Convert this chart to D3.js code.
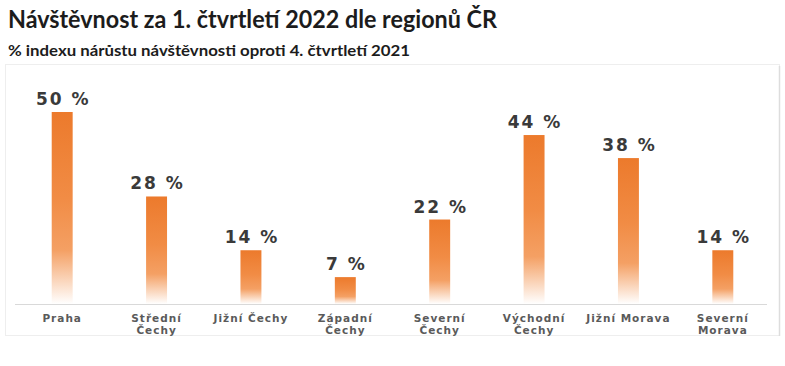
<!DOCTYPE html>
<html>
<head>
<meta charset="utf-8">
<script src="https://cdn.jsdelivr.net/npm/d3@7"></script>
<style>
  html, body { margin: 0; padding: 0; background: #ffffff; }
  svg { display: block; }
</style>
</head>
<body>
<svg id="chart" width="785" height="366"></svg>
<script>
const titleText = "Návštěvnost za 1. čtvrtletí 2022 dle regionů ČR";
const subtitleText = "% indexu nárůstu návštěvnosti oproti 4. čtvrtletí 2021";
const categories = [
  ["Praha"],
  ["Střední", "Čechy"],
  ["Jižní Čechy"],
  ["Západní", "Čechy"],
  ["Severní", "Čechy"],
  ["Východní", "Čechy"],
  ["Jižní Morava"],
  ["Severní", "Morava"]
];
const values = [50, 28, 14, 7, 22, 44, 38, 14];
const valueLabels = ["50 %", "28 %", "14 %", "7 %", "22 %", "44 %", "38 %", "14 %"];

const svg = d3.select("#chart");

// gradient for bars
const defs = svg.append("defs");
const grad = defs.append("linearGradient")
  .attr("id", "barGrad").attr("x1", 0).attr("y1", 0).attr("x2", 0).attr("y2", 1);
grad.append("stop").attr("offset", "0%").attr("stop-color", "#EC7A2C");
grad.append("stop").attr("offset", "45%").attr("stop-color", "#F18C45");
grad.append("stop").attr("offset", "72%").attr("stop-color", "#F4A064");
grad.append("stop").attr("offset", "100%").attr("stop-color", "#FFFFFF");

// chart frame
svg.append("rect")
  .attr("x", 5.5).attr("y", 64.5).attr("width", 774).attr("height", 271)
  .attr("fill", "#ffffff").attr("stroke", "#eeeeee").attr("stroke-width", 1);
svg.append("line")
  .attr("x1", 779.5).attr("x2", 779.5).attr("y1", 66).attr("y2", 336)
  .attr("stroke", "#dddddd").attr("stroke-width", 1.5);

// titles
svg.append("text")
  .attr("x", 8).attr("y", 28)
  .attr("font-family", "Lato, 'Open Sans', sans-serif")
  .attr("font-weight", 700).attr("font-size", 24)
  .attr("fill", "#1c1c1c")
  .attr("textLength", 489).attr("lengthAdjust", "spacingAndGlyphs")
  .text(titleText);
svg.append("text")
  .attr("x", 8).attr("y", 56)
  .attr("font-family", "Lato, 'Open Sans', sans-serif")
  .attr("font-weight", 700).attr("font-size", 15.5)
  .attr("fill", "#1c1c1c")
  .attr("textLength", 402).attr("lengthAdjust", "spacingAndGlyphs")
  .text(subtitleText);

const x = d3.scaleBand()
  .domain(d3.range(categories.length))
  .range([15, 770])
  .paddingInner(0.778)
  .paddingOuter(0.389);

const y = d3.scaleLinear().domain([0, 50]).range([304, 112]);

// bars
svg.append("g").selectAll("rect")
  .data(values)
  .join("rect")
  .attr("x", (d, i) => x(i))
  .attr("y", d => y(d))
  .attr("width", x.bandwidth())
  .attr("height", d => y(0) - y(d))
  .attr("fill", "url(#barGrad)");

// baseline axis
const axis = d3.axisBottom(x).tickSize(0).tickFormat("");
const axG = svg.append("g").attr("transform", `translate(0,${y(0) + 0.5})`).call(axis);
axG.select(".domain").attr("stroke", "#d9d9d9").attr("stroke-width", 1)
  .attr("d", "M1,0H753").attr("transform", "translate(14,0)");

// value labels
svg.append("g").selectAll("text")
  .data(values)
  .join("text")
  .attr("x", (d, i) => x(i) + x.bandwidth() / 2 + 1)
  .attr("y", d => y(d) - 7)
  .attr("text-anchor", "middle")
  .attr("font-family", "'DejaVu Sans', Verdana, sans-serif")
  .attr("font-weight", 700).attr("font-size", 17)
  .attr("letter-spacing", 2)
  .attr("fill", "#3a3a3a")
  .text((d, i) => valueLabels[i]);

// category labels
const catG = svg.append("g").selectAll("text")
  .data(categories)
  .join("text")
  .attr("x", (d, i) => x(i) + x.bandwidth() / 2)
  .attr("y", 322)
  .attr("text-anchor", "middle")
  .attr("font-family", "'DejaVu Sans', Verdana, sans-serif")
  .attr("font-weight", 700).attr("font-size", 10.5)
  .attr("letter-spacing", 1)
  .attr("fill", "#5a5a5a");
catG.selectAll("tspan")
  .data(d => d)
  .join("tspan")
  .attr("x", function() { return d3.select(this.parentNode).attr("x"); })
  .attr("dy", (d, i) => i === 0 ? 0 : 12)
  .text(d => d);
</script>
</body>
</html>
